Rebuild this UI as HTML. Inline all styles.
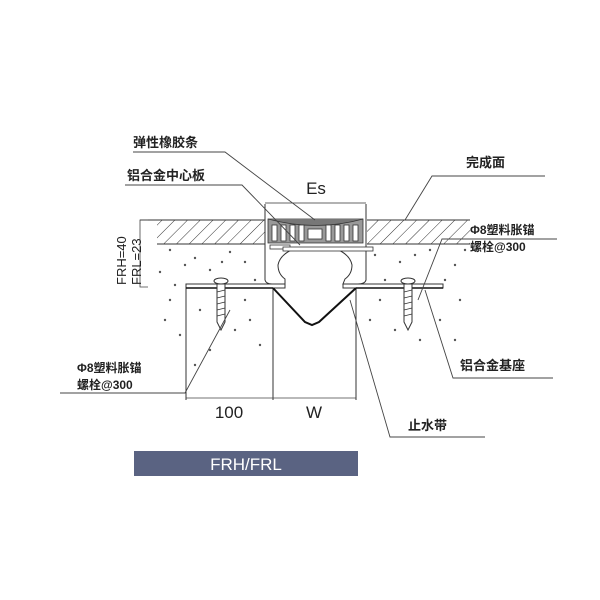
<!DOCTYPE html>
<html><head><meta charset="utf-8"><style>
body{margin:0;background:#fff}
svg{display:block}
text{font-family:"Liberation Sans","Noto Sans CJK SC",sans-serif;fill:#222}
</style></head><body>
<svg width="600" height="600" viewBox="0 0 600 600" xmlns="http://www.w3.org/2000/svg">
<defs>
<pattern id="h" width="9" height="9" patternUnits="userSpaceOnUse" patternTransform="rotate(45)">
<line x1="0" y1="0" x2="0" y2="9" stroke="#333" stroke-width="1"/></pattern>
</defs>
<rect x="157" y="220" width="108" height="24" fill="url(#h)"/>
<rect x="367" y="220" width="103" height="24" fill="url(#h)"/>
<line x1="140" y1="220" x2="265" y2="220" stroke="#333" stroke-width="1"/>
<line x1="157" y1="244" x2="265" y2="244" stroke="#333" stroke-width="1"/>
<line x1="367" y1="220" x2="470" y2="220" stroke="#333" stroke-width="1"/>
<line x1="367" y1="244" x2="470" y2="244" stroke="#333" stroke-width="1"/>
<g fill="#555">
<circle cx="170" cy="250" r="1.2"/><circle cx="195" cy="258" r="1.2"/><circle cx="230" cy="252" r="1.2"/><circle cx="160" cy="272" r="1.2"/><circle cx="175" cy="285" r="1.2"/><circle cx="210" cy="270" r="1.2"/><circle cx="245" cy="262" r="1.2"/><circle cx="255" cy="280" r="1.2"/><circle cx="185" cy="265" r="1.2"/><circle cx="222" cy="262" r="1.2"/>
<circle cx="170" cy="300" r="1.2"/><circle cx="200" cy="310" r="1.2"/><circle cx="250" cy="320" r="1.2"/><circle cx="180" cy="335" r="1.2"/><circle cx="210" cy="350" r="1.2"/><circle cx="260" cy="345" r="1.2"/><circle cx="235" cy="330" r="1.2"/><circle cx="195" cy="365" r="1.2"/><circle cx="165" cy="320" r="1.2"/><circle cx="245" cy="300" r="1.2"/>
<circle cx="375" cy="255" r="1.2"/><circle cx="400" cy="262" r="1.2"/><circle cx="430" cy="250" r="1.2"/><circle cx="455" cy="265" r="1.2"/><circle cx="385" cy="280" r="1.2"/><circle cx="445" cy="280" r="1.2"/><circle cx="460" cy="300" r="1.2"/><circle cx="380" cy="300" r="1.2"/><circle cx="370" cy="320" r="1.2"/><circle cx="440" cy="320" r="1.2"/><circle cx="455" cy="340" r="1.2"/><circle cx="420" cy="340" r="1.2"/><circle cx="395" cy="330" r="1.2"/><circle cx="415" cy="255" r="1.2"/><circle cx="465" cy="250" r="1.2"/>
</g>
<g stroke="#333" stroke-width="1" fill="none">
<line x1="186" y1="287" x2="186" y2="400"/>
<line x1="273" y1="287" x2="273" y2="400"/>
<line x1="356" y1="287" x2="356" y2="400"/>
</g>
<rect x="186" y="284" width="99" height="4" fill="#fff" stroke="#333" stroke-width="1"/>
<rect x="343" y="284" width="100" height="4" fill="#fff" stroke="#333" stroke-width="1"/>
<line x1="186" y1="288" x2="273" y2="288" stroke="#111" stroke-width="1.6"/>
<line x1="356" y1="288" x2="443" y2="288" stroke="#111" stroke-width="1.6"/>
<polyline points="273,288 305,322 312,325 319,322 356,288" fill="none" stroke="#111" stroke-width="2"/>
<path d="M265 204 L265 280 Q266 284 272 284 L285 284 L285 279 Q278 274 278 265 Q280 254 296 248 L334 248 Q350 254 352 265 Q352 274 345 279 L343 284 L358 284 Q365 284 366 280 L366 204" fill="#fff" stroke="#333" stroke-width="1"/>
<path d="M268 219 L363 219 L363 243 L268 243 Z" fill="#999" stroke="#333" stroke-width="0.8"/>
<path d="M268 219 Q316 232 363 219" fill="#777" stroke="#333" stroke-width="0.8"/>
<g fill="#fff" stroke="#333" stroke-width="0.8">
<rect x="272" y="225" width="5" height="16"/><rect x="281" y="225" width="5" height="16"/><rect x="290" y="225" width="5" height="16"/><rect x="299" y="225" width="5" height="16"/><rect x="308" y="229" width="14" height="10"/><rect x="326" y="225" width="5" height="16"/><rect x="335" y="225" width="5" height="16"/><rect x="344" y="225" width="5" height="16"/><rect x="353" y="225" width="5" height="16"/>
</g>
<rect x="270" y="245" width="20" height="4" fill="#fff" stroke="#333" stroke-width="0.8"/>
<rect x="283" y="247" width="90" height="4" fill="#fff" stroke="#333" stroke-width="0.8"/>
<line x1="265" y1="203" x2="366" y2="203" stroke="#333" stroke-width="0.8"/>
<text x="316" y="194" font-size="17" text-anchor="middle">Es</text>
<g stroke="#333" stroke-width="1" fill="#fff">
<ellipse cx="221" cy="281" rx="7" ry="3"/>
<path d="M217 284 L217 322 L221 330 L225 322 L225 284 Z"/>
<ellipse cx="408" cy="281" rx="7" ry="3"/>
<path d="M404 284 L404 322 L408 330 L412 322 L412 284 Z"/>
</g>
<g stroke="#333" stroke-width="0.7">
<line x1="217" y1="292" x2="225" y2="290"/><line x1="217" y1="298" x2="225" y2="296"/><line x1="217" y1="304" x2="225" y2="302"/><line x1="217" y1="310" x2="225" y2="308"/><line x1="217" y1="316" x2="225" y2="314"/>
<line x1="404" y1="292" x2="412" y2="290"/><line x1="404" y1="298" x2="412" y2="296"/><line x1="404" y1="304" x2="412" y2="302"/><line x1="404" y1="310" x2="412" y2="308"/><line x1="404" y1="316" x2="412" y2="314"/>
</g>
<polyline points="148,220 140,220 140,287 148,287" fill="none" stroke="#444" stroke-width="0.8"/>
<text transform="translate(126,285) rotate(-90)" font-size="13">FRH=40</text>
<text transform="translate(141,285) rotate(-90)" font-size="13">FRL=23</text>
<line x1="186" y1="398" x2="356" y2="398" stroke="#444" stroke-width="0.8"/>
<text x="229" y="418" font-size="17" text-anchor="middle">100</text>
<text x="314" y="418" font-size="17" text-anchor="middle">W</text>
<g stroke="#444" stroke-width="0.9" fill="none">
<polyline points="133,152 225,152 315,220"/>
<polyline points="125,185 242,185 300,245"/>
<polyline points="545,176 432,176 405,220"/>
<polyline points="557,239 442,239 418,300"/>
<polyline points="553,378 453,378 425,290"/>
<polyline points="485,437 390,437 350,300"/>
<polyline points="60,393 185,393 230,310"/>
</g>
<g font-weight="bold">
<text x="133" y="147" font-size="13">弹性橡胶条</text>
<text x="127" y="180" font-size="13">铝合金中心板</text>
<text x="466" y="167" font-size="13">完成面</text>
<text x="470" y="234" font-size="12">Φ8塑料胀锚</text>
<text x="470" y="251" font-size="12">螺栓@300</text>
<text x="460" y="370" font-size="13">铝合金基座</text>
<text x="408" y="430" font-size="13">止水带</text>
<text x="77" y="372" font-size="12">Φ8塑料胀锚</text>
<text x="77" y="389" font-size="12">螺栓@300</text>
</g>
<rect x="134" y="451" width="224" height="25" fill="#5a6382"/>
<text x="246" y="470" font-size="17" style="fill:#fff" text-anchor="middle">FRH/FRL</text>
</svg>
</body></html>
